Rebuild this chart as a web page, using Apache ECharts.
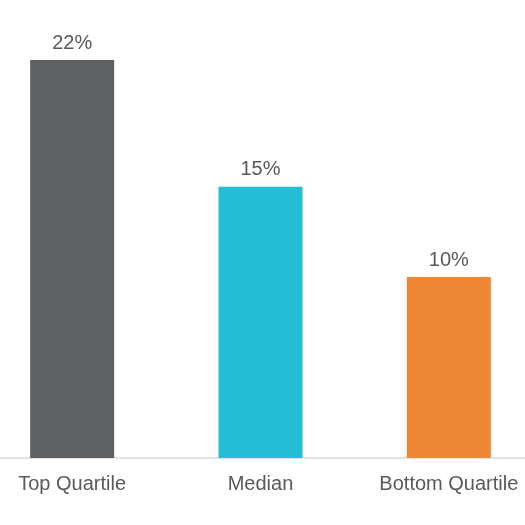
<!DOCTYPE html>
<html>
<head>
<meta charset="utf-8">
<script src="https://cdn.jsdelivr.net/npm/echarts@6/dist/echarts.min.js"></script>
<style>html,body{margin:0;padding:0;background:#fff;}#c{width:525px;height:525px;}</style>
</head>
<body>
<div id="c"></div>
<script>
const categories = ['Top Quartile', 'Median', 'Bottom Quartile'];
const values = [22, 15, 10];
const colors = ['#5f6064', '#23bdd5', '#ef8636'];

const chart = echarts.init(document.getElementById('c'));
chart.setOption({
  animation: false,
  grid: { left: -22, width: 565, top: 60, bottom: 67, containLabel: false, outerBoundsMode: 'none' },
  xAxis: {
    type: 'category',
    data: categories,
    axisLine: { show: true, lineStyle: { color: '#e3e3e3', width: 2 } },
    axisTick: { show: false },
    axisLabel: { color: '#595959', fontSize: 20, fontFamily: 'Liberation Sans, Arial, sans-serif', margin: 16, hideOverlap: false }
  },
  yAxis: {
    type: 'value', min: 0, max: 22,
    show: false, splitLine: { show: false }
  },
  series: [{
    type: 'bar',
    barWidth: 84,
    data: values.map((v, i) => ({ value: v, itemStyle: { color: colors[i] } })),
    label: {
      show: true, position: 'top', distance: 7,
      formatter: p => p.value + '%',
      color: '#595959', fontSize: 20, fontFamily: 'Liberation Sans, Arial, sans-serif'
    }
  }]
});
</script>
</body>
</html>
